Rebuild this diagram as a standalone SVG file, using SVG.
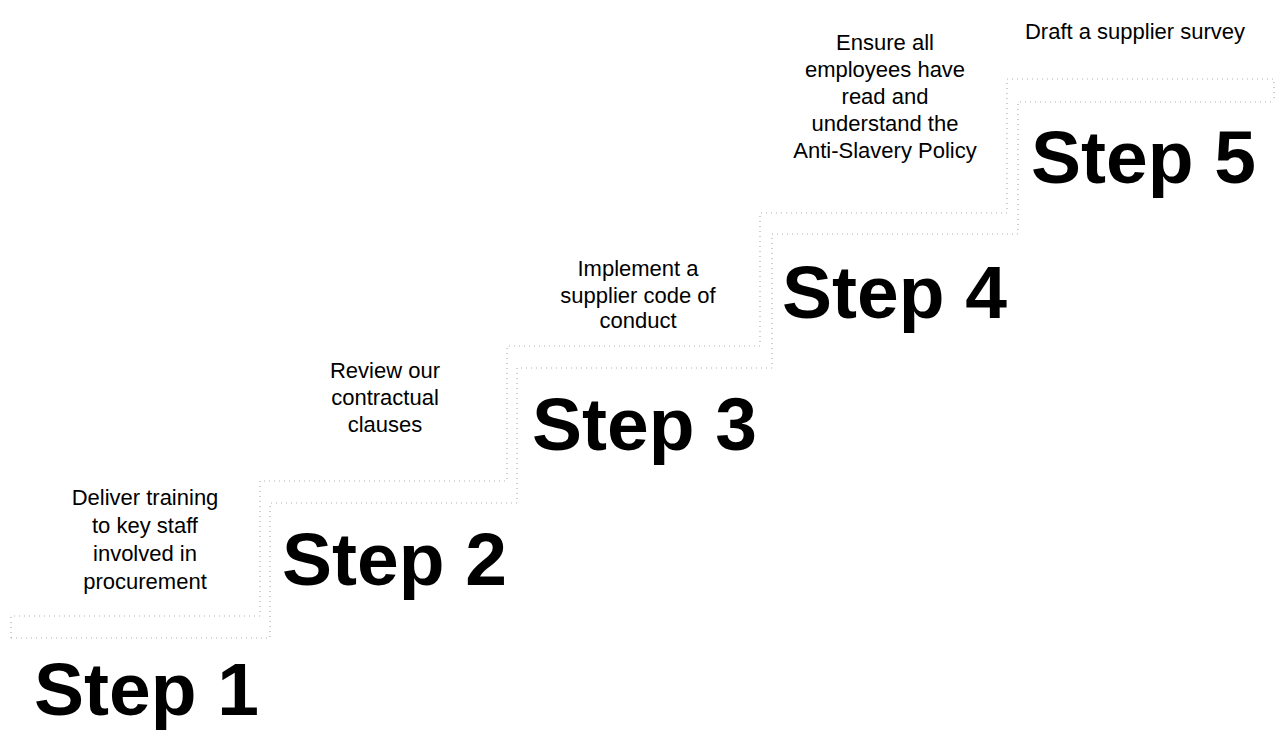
<svg xmlns="http://www.w3.org/2000/svg" width="1276" height="733" viewBox="0 0 1276 733">
<style>
.stair{fill:none;stroke:#b0b0b0;stroke-width:1.2;stroke-dasharray:1 4}
.big{font-family:"Liberation Sans",Arial,sans-serif;font-weight:bold;font-size:75px;fill:#000}
.desc{font-family:"Liberation Sans",Arial,sans-serif;font-size:22px;fill:#000;text-anchor:middle}
</style>
<rect width="1276" height="733" fill="#fff"/>
<g id="stairs">
<polyline class="stair" points="11,638 11,616 260,616 260,481 507,481 507,346 760,346 760,213 1007,213 1007,79 1274,79 1274,102"/>
<polyline class="stair" points="11,638 270,638 270,503 517,503 517,368 772,368 772,234 1018,234 1018,102 1274,102"/>
</g>
<g id="step1">
<text class="big" x="34" y="715">Step 1</text>
<text class="desc" x="145" y="505">Deliver training</text>
<text class="desc" x="145" y="533">to key staff</text>
<text class="desc" x="145" y="561">involved in</text>
<text class="desc" x="145" y="589">procurement</text>
</g>
<g id="step2">
<text class="big" x="282" y="585">Step 2</text>
<text class="desc" x="385" y="378">Review our</text>
<text class="desc" x="385" y="405">contractual</text>
<text class="desc" x="385" y="432">clauses</text>
</g>
<g id="step3">
<text class="big" x="532" y="450">Step 3</text>
<text class="desc" x="638" y="276">Implement a</text>
<text class="desc" x="638" y="303">supplier code of</text>
<text class="desc" x="638" y="328">conduct</text>
</g>
<g id="step4">
<text class="big" x="782" y="318">Step 4</text>
<text class="desc" x="885" y="50">Ensure all</text>
<text class="desc" x="885" y="77">employees have</text>
<text class="desc" x="885" y="104">read and</text>
<text class="desc" x="885" y="131">understand the</text>
<text class="desc" x="885" y="158">Anti-Slavery Policy</text>
</g>
<g id="step5">
<text class="big" x="1031" y="183">Step 5</text>
<text class="desc" x="1135" y="39">Draft a supplier survey</text>
</g>
</svg>
